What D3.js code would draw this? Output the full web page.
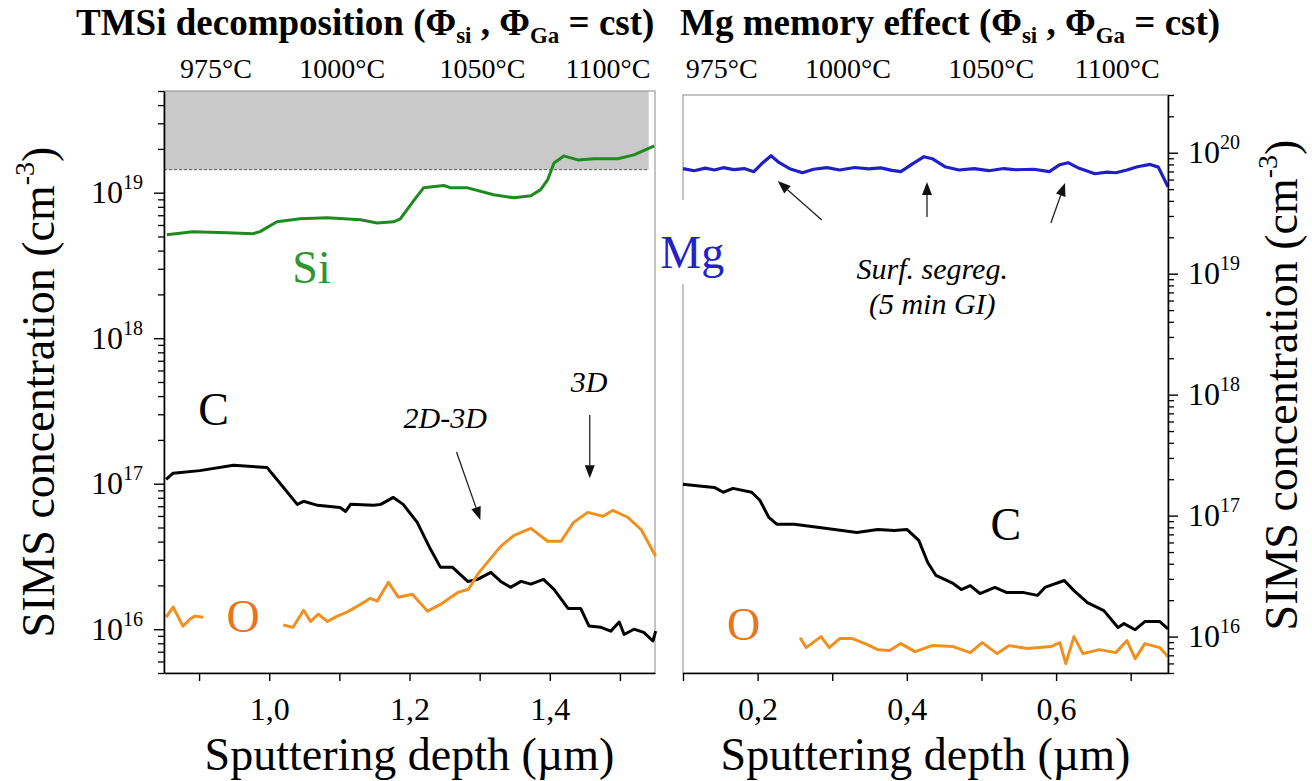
<!DOCTYPE html>
<html>
<head>
<meta charset="utf-8">
<script src="https://cdn.jsdelivr.net/npm/d3@7"></script>
<style>
body { margin: 0; background: #fff; }
svg text, svg tspan { font-family: "Liberation Serif", "Times New Roman", serif; }
</style>
</head>
<body>
<svg id="chart" width="1312" height="781"></svg>
<script>
// ---- left panel : TMSi decomposition ----
var siDepth = [0.854, 0.891, 0.940, 0.977, 0.987, 1.011, 1.044, 1.083, 1.130, 1.154, 1.177, 1.187, 1.206, 1.220, 1.249, 1.259, 1.283, 1.320, 1.349, 1.373, 1.387, 1.397, 1.406, 1.420, 1.440, 1.463, 1.497, 1.520, 1.549];
var siConc = [5.14e18, 5.40e18, 5.31e18, 5.23e18, 5.40e18, 6.31e18, 6.62e18, 6.72e18, 6.51e18, 6.20e18, 6.31e18, 6.62e18, 8.81e18, 1.08e19, 1.12e19, 1.08e19, 1.08e19, 9.68e18, 9.23e18, 9.52e18, 1.05e19, 1.23e19, 1.60e19, 1.79e19, 1.68e19, 1.71e19, 1.71e19, 1.82e19, 2.10e19];

var cLeftDepth = [0.853, 0.863, 0.901, 0.949, 0.997, 1.011, 1.040, 1.049, 1.069, 1.101, 1.109, 1.116, 1.149, 1.159, 1.177, 1.191, 1.211, 1.230, 1.244, 1.261, 1.283, 1.297, 1.316, 1.330, 1.344, 1.359, 1.373, 1.391, 1.406, 1.426, 1.444, 1.456, 1.473, 1.487, 1.499, 1.506, 1.520, 1.534, 1.547, 1.551];
var cLeftConc = [1.07e17, 1.18e17, 1.23e17, 1.34e17, 1.29e17, 1.07e17, 7.21e16, 7.57e16, 7.10e16, 6.87e16, 6.45e16, 7.21e16, 7.10e16, 7.21e16, 8.05e16, 7.21e16, 5.42e16, 3.54e16, 2.67e16, 2.67e16, 2.13e16, 2.20e16, 2.46e16, 2.13e16, 1.94e16, 2.13e16, 2.04e16, 2.20e16, 1.88e16, 1.39e16, 1.39e16, 1.05e16, 1.03e16, 9.7e15, 1.12e16, 9.2e15, 1.0e16, 9.5e15, 8.3e15, 9.7e15];

// null = gap in the O profile (label sits there)
var oLeftDepth = [0.853, 0.863, 0.877, 0.887, 0.894, 0.906, 0.960, 1.020, 1.034, 1.049, 1.059, 1.070, 1.083, 1.097, 1.111, 1.130, 1.144, 1.154, 1.170, 1.184, 1.204, 1.226, 1.244, 1.269, 1.284, 1.297, 1.311, 1.330, 1.349, 1.373, 1.397, 1.416, 1.434, 1.454, 1.476, 1.490, 1.511, 1.530, 1.551];
var oLeftConc = [1.21e16, 1.42e16, 1.05e16, 1.17e16, 1.23e16, 1.21e16, null, 1.07e16, 1.03e16, 1.35e16, 1.13e16, 1.27e16, 1.13e16, 1.23e16, 1.31e16, 1.48e16, 1.63e16, 1.56e16, 2.10e16, 1.66e16, 1.74e16, 1.33e16, 1.48e16, 1.79e16, 1.88e16, 2.38e16, 2.88e16, 3.71e16, 4.42e16, 4.93e16, 4.02e16, 4.02e16, 5.42e16, 6.35e16, 5.97e16, 6.56e16, 5.88e16, 4.86e16, 3.17e16];

var siLimit = 1.44e19;

// ---- right panel : Mg memory effect ----
var mgDepth = [0.100, 0.115, 0.130, 0.142, 0.154, 0.168, 0.182, 0.195, 0.207, 0.218, 0.229, 0.243, 0.260, 0.275, 0.293, 0.310, 0.330, 0.349, 0.365, 0.380, 0.392, 0.406, 0.423, 0.434, 0.451, 0.470, 0.490, 0.510, 0.530, 0.546, 0.570, 0.591, 0.605, 0.616, 0.629, 0.652, 0.668, 0.680, 0.695, 0.709, 0.726, 0.737, 0.750];
var mgConc = [7.38e19, 7.10e19, 7.45e19, 7.20e19, 7.52e19, 7.25e19, 7.40e19, 6.97e19, 8.27e19, 9.44e19, 8.27e19, 7.38e19, 6.83e19, 7.30e19, 7.52e19, 7.20e19, 7.55e19, 7.35e19, 7.50e19, 7.15e19, 6.97e19, 7.96e19, 9.27e19, 8.92e19, 7.66e19, 7.20e19, 7.38e19, 7.10e19, 7.40e19, 7.23e19, 7.30e19, 6.97e19, 7.96e19, 8.27e19, 7.52e19, 6.70e19, 6.90e19, 6.83e19, 7.20e19, 7.66e19, 8.00e19, 7.60e19, 5.23e19];

var cRightDepth = [0.100, 0.125, 0.142, 0.154, 0.167, 0.192, 0.203, 0.215, 0.226, 0.249, 0.293, 0.333, 0.361, 0.383, 0.400, 0.416, 0.428, 0.439, 0.462, 0.473, 0.485, 0.498, 0.518, 0.534, 0.557, 0.575, 0.585, 0.611, 0.624, 0.642, 0.664, 0.683, 0.691, 0.706, 0.719, 0.739, 0.750];
var cRightConc = [1.82e17, 1.75e17, 1.71e17, 1.56e17, 1.68e17, 1.56e17, 1.34e17, 9.68e16, 8.47e16, 8.47e16, 7.84e16, 7.26e16, 7.69e16, 7.55e16, 7.69e16, 6.24e16, 4.10e16, 3.20e16, 2.75e16, 2.45e16, 2.64e16, 2.27e16, 2.55e16, 2.31e16, 2.31e16, 2.19e16, 2.55e16, 2.91e16, 2.40e16, 1.91e16, 1.64e16, 1.19e16, 1.28e16, 1.14e16, 1.33e16, 1.33e16, 1.16e16];

var oRightDepth = [0.257, 0.265, 0.285, 0.296, 0.310, 0.327, 0.344, 0.361, 0.377, 0.392, 0.411, 0.434, 0.462, 0.485, 0.501, 0.521, 0.537, 0.562, 0.593, 0.605, 0.613, 0.624, 0.636, 0.658, 0.680, 0.695, 0.706, 0.719, 0.739, 0.750];
var oRightConc = [9.8e15, 8.11e15, 1.0e16, 8.11e15, 9.63e15, 9.63e15, 8.75e15, 7.80e15, 7.66e15, 8.75e15, 7.51e15, 8.42e15, 8.27e15, 7.37e15, 8.92e15, 7.23e15, 8.42e15, 7.96e15, 8.27e15, 8.92e15, 5.97e15, 1.0e16, 7.23e15, 7.80e15, 7.37e15, 9.27e15, 6.58e15, 8.75e15, 8.11e15, 6.82e15];

// ---- shared texts ----
var tempLabels = ["975°C", "1000°C", "1050°C", "1100°C"];
var tempLeftDepth = [0.924, 1.104, 1.304, 1.483];
var tempRightDepth = [0.152, 0.321, 0.513, 0.682];
var leftXTicks = [0.9, 1.0, 1.1, 1.2, 1.3, 1.4, 1.5];
var rightXTicks = [0.1, 0.2, 0.3, 0.4, 0.5, 0.6, 0.7];

var FONT = "'Liberation Serif', 'Times New Roman', serif";
var green = "#1f8a1f", black = "#000", orange = "#f0901e", blue = "#1f1fc8";

var svg = d3.select("#chart");

function zip(a, b) { return a.map(function(d, i) { return [d, b[i]]; }); }

function frame(g, x, y) {
    var x0 = x.range()[0], x1 = x.range()[1], y0 = y.range()[1], y1 = y.range()[0];
    g.append("rect").attr("x", x0).attr("y", y0).attr("width", x1 - x0).attr("height", y1 - y0)
        .attr("fill", "none").attr("stroke", "#8a8a8a").attr("stroke-width", 1);
}

function xAxis(g, x, y, ticks) {
    var ax = g.append("g")
        .attr("transform", "translate(0," + y.range()[0] + ")")
        .call(d3.axisBottom(x).tickValues(ticks).tickSize(8).tickSizeOuter(0)
            .tickFormat(function(d) {
                return Math.round(d * 10) % 2 === 0 ? d3.format(".1f")(d).replace(".", ",") : "";
            }));
    ax.attr("font-family", null);
    ax.select(".domain").attr("stroke", "#000").attr("stroke-width", 1.6);
    ax.selectAll(".tick line").attr("stroke", "#000").attr("stroke-width", 1.4);
    ax.selectAll(".tick text").attr("y", 47).attr("dy", 0)
        .attr("font-size", 32).attr("fill", "#000");
}

function logAxis(g, y, xpos, side) {
    var lo = y.domain()[0], hi = y.domain()[1], minor = [], major = [];
    for (var e = 15; e <= 21; e++) {
        for (var m = 1; m <= 9; m++) {
            var v = m * Math.pow(10, e);
            if (v >= lo * 0.999 && v <= hi * 1.001) (m === 1 ? major : minor).push(v);
        }
    }
    var mk = side === "left" ? d3.axisLeft : d3.axisRight;
    var gm = g.append("g").attr("transform", "translate(" + xpos + ",0)")
        .call(mk(y).tickValues(minor).tickSize(6).tickSizeOuter(0).tickFormat(""));
    gm.select(".domain").attr("stroke", "#000").attr("stroke-width", 1.6);
    gm.selectAll(".tick line").attr("stroke", "#000").attr("stroke-width", 1.3);
    var gM = g.append("g").attr("transform", "translate(" + xpos + ",0)")
        .call(mk(y).tickValues(major).tickSize(10).tickSizeOuter(0).tickFormat(""));
    gM.attr("font-family", null);
    gM.select(".domain").remove();
    gM.selectAll(".tick line").attr("stroke", "#000").attr("stroke-width", 1.4);
    gM.selectAll(".tick text").remove();
    gM.selectAll(".tick").each(function(d) {
        var t = d3.select(this).append("text")
            .attr("x", side === "left" ? -21 : 20).attr("y", 10)
            .attr("text-anchor", side === "left" ? "end" : "start")
            .attr("fill", "#000");
        t.append("tspan").attr("font-size", 32).text("10");
        t.append("tspan").attr("font-size", 20).attr("dy", -14).text(Math.round(Math.log10(d)));
    });
}

function line(g, x, y, xs, ys, color, w) {
    g.append("path")
        .datum(zip(xs, ys))
        .attr("fill", "none").attr("stroke", color).attr("stroke-width", w || 3)
        .attr("stroke-linejoin", "round")
        .attr("d", d3.line().defined(function(d) { return d[1] != null; })
            .x(function(d) { return x(d[0]); }).y(function(d) { return y(d[1]); }));
}

function arrow(g, x, y, a) {
    var x1 = x(a[0]), y1 = y(a[1]), x2 = x(a[2]), y2 = y(a[3]);
    var ang = Math.atan2(y2 - y1, x2 - x1), L = 13, W = 5;
    var bx = x2 - L * Math.cos(ang), by = y2 - L * Math.sin(ang);
    g.append("line").attr("x1", x1).attr("y1", y1).attr("x2", bx).attr("y2", by)
        .attr("stroke", "#222").attr("stroke-width", 1.3);
    g.append("path").attr("fill", "#111")
        .attr("d", "M" + x2 + "," + y2 +
            "L" + (bx + W * Math.sin(ang)) + "," + (by - W * Math.cos(ang)) +
            "L" + (bx - W * Math.sin(ang)) + "," + (by + W * Math.cos(ang)) + "Z");
}

function label(g, x, y, p, txt, opt) {
    return g.append("text").attr("x", x(p[0])).attr("y", y(p[1]))
        .attr("font-size", opt.size).attr("fill", opt.color || "#000")
        .attr("font-style", opt.italic ? "italic" : "normal")
        .attr("text-anchor", opt.anchor || "start").text(txt);
}

function title(g, xpos, words) {
    var t = g.append("text").attr("x", xpos).attr("y", 35)
        .attr("font-size", 37).attr("font-weight", "bold").attr("fill", "#000");
    t.append("tspan").text(words + " (Φ");
    t.append("tspan").attr("font-size", 23).attr("dy", 8).text("si");
    t.append("tspan").attr("dy", -8).text(" , Φ");
    t.append("tspan").attr("font-size", 23).attr("dy", 8).text("Ga");
    t.append("tspan").attr("dy", -8).text(" = cst)");
}

function temps(g, x, depths) {
    g.selectAll(null).data(tempLabels).enter().append("text")
        .attr("x", function(d, i) { return x(depths[i]); })
        .attr("y", 78).attr("text-anchor", "middle").attr("font-size", 28)
        .text(function(d) { return d; });
}

function yTitle(g, tx, ty) {
    var t = g.append("text").attr("transform", "translate(" + tx + "," + ty + ") rotate(-90)")
        .attr("text-anchor", "middle").attr("font-size", 46).attr("fill", "#000");
    t.append("tspan").text("SIMS concentration (cm");
    t.append("tspan").attr("font-size", 28).attr("dy", -20).text("-3");
    t.append("tspan").attr("dy", 20).text(")");
}

function xTitle(g, x) {
    g.append("text").attr("x", (x.range()[0] + x.range()[1]) / 2).attr("y", 770)
        .attr("text-anchor", "middle").attr("font-size", 46).text("Sputtering depth (\u00b5m)");
}

// ================= left panel =================
var xL = d3.scaleLinear().domain([0.85, 1.55]).range([164, 655]);
var yL = d3.scaleLog().domain([5e15, 5e19]).range([673, 91]);
var gL = svg.append("g");

gL.append("rect").attr("x", xL(0.85)).attr("y", yL(5e19))
    .attr("width", xL(1.541) - xL(0.85)).attr("height", yL(siLimit) - yL(5e19))
    .attr("fill", "#c9c9c9");
gL.append("line").attr("x1", xL(0.85)).attr("x2", xL(1.541))
    .attr("y1", yL(siLimit)).attr("y2", yL(siLimit))
    .attr("stroke", "#555").attr("stroke-width", 1).attr("stroke-dasharray", "3,2");
frame(gL, xL, yL);

line(gL, xL, yL, siDepth, siConc, green);
line(gL, xL, yL, cLeftDepth, cLeftConc, black);
line(gL, xL, yL, oLeftDepth, oLeftConc, orange);

xAxis(gL, xL, yL, leftXTicks);
logAxis(gL, yL, 164, "left");

label(gL, xL, yL, [1.033, 2.39e18], "Si", {size: 46, color: "#2f962f"});
label(gL, xL, yL, [0.899, 2.53e17], "C", {size: 46});
label(gL, xL, yL, [0.939, 9.6e15], "O", {size: 46, color: "#e8741c"});
label(gL, xL, yL, [1.251, 2.42e17], "2D-3D", {size: 30, italic: true, anchor: "middle"});
label(gL, xL, yL, [1.456, 4.27e17], "3D", {size: 30, italic: true, anchor: "middle"});
arrow(gL, xL, yL, [1.267, 1.65e17, 1.301, 5.64e16]);
arrow(gL, xL, yL, [1.457, 2.97e17, 1.457, 1.09e17]);

title(gL, 76, "TMSi decomposition");
temps(gL, xL, tempLeftDepth);
yTitle(gL, 54, 392);
xTitle(gL, xL);

// ================= right panel =================
var xR = d3.scaleLinear().domain([0.1, 0.75]).range([683, 1168]);
var yR = d3.scaleLog().domain([5e15, 3e20]).range([673, 95]);
var gR = svg.append("g");

frame(gR, xR, yR);
line(gR, xR, yR, mgDepth, mgConc, blue, 3.2);
line(gR, xR, yR, cRightDepth, cRightConc, black);
line(gR, xR, yR, oRightDepth, oRightConc, orange);

xAxis(gR, xR, yR, rightXTicks);
logAxis(gR, yR, 1168, "right");

// Mg label hides the left edge of the frame
gR.append("rect").attr("x", 656).attr("y", 200).attr("width", 78).attr("height", 84).attr("fill", "#fff");
label(gR, xR, yR, [0.0695, 1.11e19], "Mg", {size: 46, color: "#2222cc"});
label(gR, xR, yR, [0.512, 6.3e16], "C", {size: 46});
label(gR, xR, yR, [0.159, 9.4e15], "O", {size: 46, color: "#e8741c"});
label(gR, xR, yR, [0.434, 9.0e18], "Surf. segreg.", {size: 30, italic: true, anchor: "middle"});
label(gR, xR, yR, [0.434, 4.6e18], "(5 min GI)", {size: 30, italic: true, anchor: "middle"});
arrow(gR, xR, yR, [0.286, 2.78e19, 0.227, 5.83e19]);
arrow(gR, xR, yR, [0.427, 2.94e19, 0.427, 5.73e19]);
arrow(gR, xR, yR, [0.593, 2.62e19, 0.612, 5.62e19]);

title(gR, 680, "Mg memory effect");
temps(gR, xR, tempRightDepth);
yTitle(gR, 1297, 385);
xTitle(gR, xR);

svg.selectAll("text").style("font-family", FONT);
</script>
</body>
</html>
